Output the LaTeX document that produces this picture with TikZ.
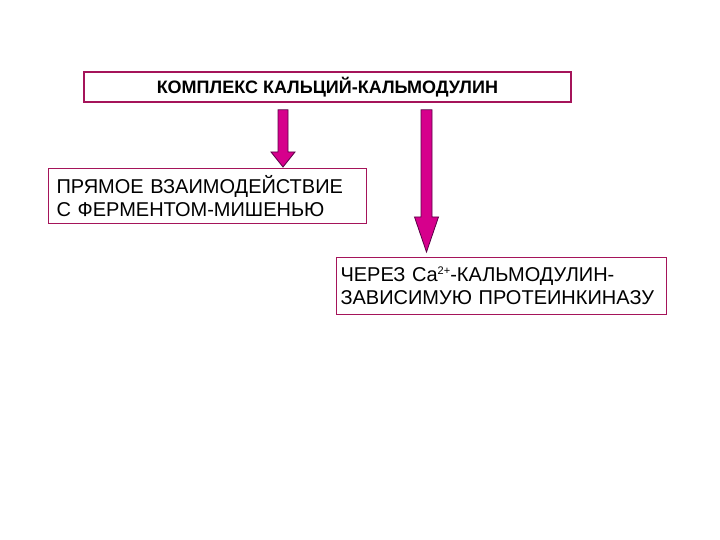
\documentclass[tikz,border=0pt]{standalone}
\usepackage{fontspec}
\setmainfont{Liberation Sans}
\usepackage{xcolor}
\usetikzlibrary{positioning, calc}
\definecolor{boxedge}{RGB}{165,20,90}
\definecolor{arrowfill}{RGB}{214,0,140}
\definecolor{arrowedge}{RGB}{90,0,70}
\tikzset{
  complexbox/.style={rectangle, draw=boxedge, line width=1.8pt, fill=white, minimum width=487pt, minimum height=30pt, align=center, font=\fontsize{18}{21}\selectfont\bfseries},
  pathbox/.style={rectangle, draw=boxedge, line width=1pt, fill=white, align=left, font=\fontsize{20}{23}\selectfont},
  fatarrow/.style={fill=arrowfill, draw=arrowedge, line width=0.8pt, line join=miter},
}

\begin{document}
\begin{tikzpicture}[x=1pt, y=1pt]
  \useasboundingbox (0,0) rectangle (720,540);

  % Complex
  \node[complexbox, anchor=north west] (complex) at (83,469) {КОМПЛЕКС КАЛЬЦИЙ-КАЛЬМОДУЛИН};

  % Two pathways
  \node[pathbox, anchor=north west, text width=302pt, minimum height=55pt, inner xsep=8pt] (direct) at (48,372) {ПРЯМОЕ ВЗАИМОДЕЙСТВИЕ\\С ФЕРМЕНТОМ-МИШЕНЬЮ};
  \node[pathbox, anchor=north west, text width=322pt, minimum height=57pt, inner xsep=4pt] (kinase) at (336,283) {ЧЕРЕЗ Ca\raisebox{7pt}{\fontsize{11}{11}\selectfont 2+}-КАЛЬМОДУЛИН-\\\mbox{ЗАВИСИМУЮ ПРОТЕИНКИНАЗУ}};

  % Arrows
  \coordinate (directfrom) at ($(complex.south west)+(200pt,-7pt)$);
  \coordinate (directto) at ($(directfrom |- direct.north)+(0,1pt)$);
  \coordinate (kinasefrom) at ($(complex.south west)+(343.5pt,-7pt)$);
  \coordinate (kinaseto) at ($(kinasefrom |- kinase.north)+(0,5pt)$);

  \filldraw[fatarrow] ($(directfrom)+(-5pt,0)$) -- ($(directto)+(-5pt,15pt)$) -- ($(directto)+(-12pt,15pt)$) -- (directto)
    -- ($(directto)+(12pt,15pt)$) -- ($(directto)+(5pt,15pt)$) -- ($(directfrom)+(5pt,0)$) -- cycle;
  \filldraw[fatarrow] ($(kinasefrom)+(-5.5pt,0)$) -- ($(kinaseto)+(-5.5pt,35pt)$) -- ($(kinaseto)+(-12pt,35pt)$) -- (kinaseto)
    -- ($(kinaseto)+(12pt,35pt)$) -- ($(kinaseto)+(5.5pt,35pt)$) -- ($(kinasefrom)+(5.5pt,0)$) -- cycle;
\end{tikzpicture}
\end{document}
